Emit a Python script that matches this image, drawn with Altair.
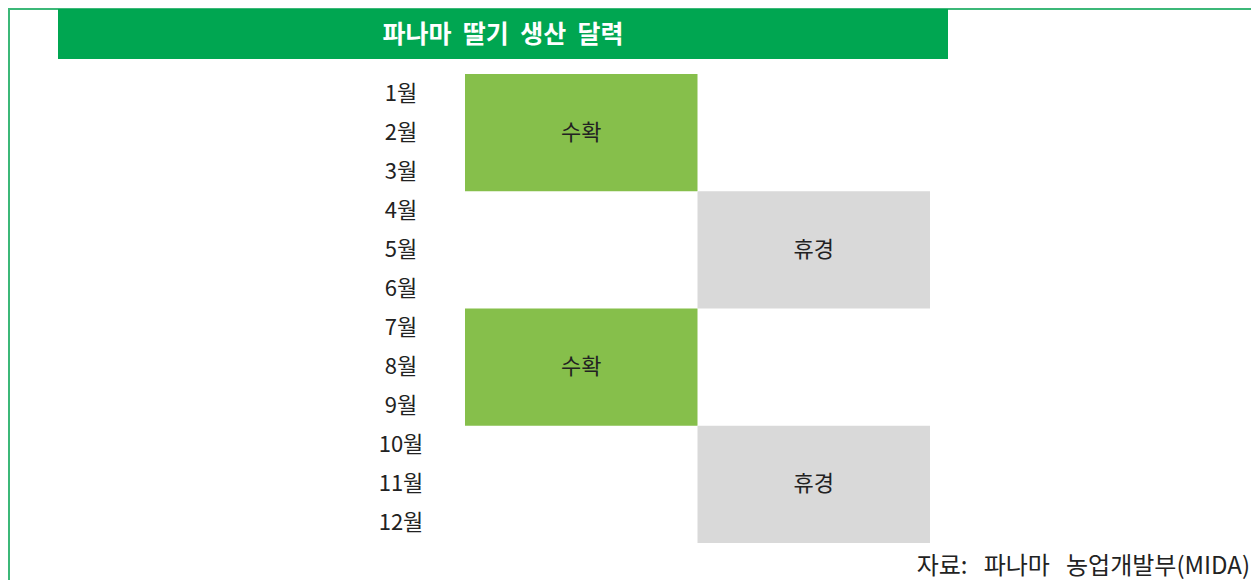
import altair as alt
import pandas as pd

months = ["1월", "2월", "3월", "4월", "5월", "6월", "7월", "8월", "9월", "10월", "11월", "12월"]
block_start = [0, 3, 6, 9]
block_end = [3, 6, 9, 12]
block_col = [0, 1, 0, 1]
block_label = ["수확", "휴경", "수확", "휴경"]
block_color = ["#86bf4b", "#d9d9d9", "#86bf4b", "#d9d9d9"]
title_text = "파나마\u00a0 딸기\u00a0 생산\u00a0 달력"
source_text = "자료:\u00a0\u00a0 파나마\u00a0\u00a0 농업개발부(MIDA)"

FONT = "Noto Sans CJK KR"

blocks = pd.DataFrame({
    "start": block_start, "end": block_end,
    "col": block_col, "col2": [c + 1 for c in block_col],
    "mid": [(s + e) / 2 for s, e in zip(block_start, block_end)],
    "xmid": [c + 0.5 for c in block_col],
    "label": block_label, "color": block_color,
})
mdf = pd.DataFrame({"month": months, "pos": [i + 0.5 for i in range(len(months))]})

xs = alt.Scale(domain=[0, 2], range=[457, 922])
ys = alt.Scale(domain=[0, 12], range=[66, 535])

rects = alt.Chart(blocks).mark_rect().encode(
    x=alt.X("col:Q", scale=xs, axis=None),
    x2="col2:Q",
    y=alt.Y("start:Q", scale=ys, axis=None),
    y2="end:Q",
    color=alt.Color("color:N", scale=None),
)
rect_text = alt.Chart(blocks).mark_text(font=FONT, fontSize=22, color="#222222").encode(
    x=alt.X("xmid:Q", scale=xs, axis=None),
    y=alt.Y("mid:Q", scale=ys, axis=None),
    text="label:N",
)
month_text = alt.Chart(mdf).mark_text(font=FONT, fontSize=22, color="#222222", align="center").encode(
    x=alt.value(393),
    y=alt.Y("pos:Q", scale=ys, axis=None),
    text="month:N",
)

deco = pd.DataFrame({"t": [title_text], "s": [source_text]})
title_bar = alt.Chart(deco).mark_rect(color="#00a651").encode(
    x=alt.value(50), x2=alt.value(940), y=alt.value(1), y2=alt.value(51)
)
title_t = alt.Chart(deco).mark_text(font=FONT, fontSize=25, fontWeight="bold", color="white").encode(
    x=alt.value(495), y=alt.value(27), text="t:N"
)
source_t = alt.Chart(deco).mark_text(font=FONT, fontSize=24, color="#222222", align="right", baseline="alphabetic").encode(
    x=alt.value(1242), y=alt.value(566), text="s:N"
)
top_line = alt.Chart(deco).mark_rule(color="#3cb878", strokeWidth=2).encode(
    x=alt.value(0), x2=alt.value(1243), y=alt.value(1)
)
left_line = alt.Chart(deco).mark_rule(color="#3cb878", strokeWidth=2).encode(
    x=alt.value(1), y=alt.value(0), y2=alt.value(572)
)

chart = alt.layer(
    top_line, left_line, title_bar, title_t, rects, rect_text, month_text, source_t
).properties(
    width=1243, height=572, autosize=alt.AutoSizeParams(type="none"), padding=0
).configure_view(stroke=None)

chart.save("out.html", embed_options={"renderer": "svg", "actions": False})
